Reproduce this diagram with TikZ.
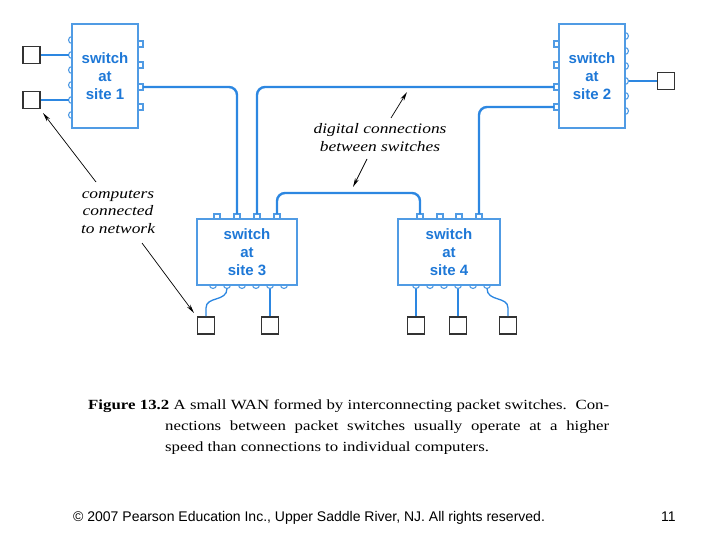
\documentclass[tikz,border=0pt]{standalone}
\usepackage{fontspec}
\setmainfont{Liberation Serif}
\newfontfamily\capfont[FakeStretch=1.2]{Liberation Serif}
\newfontfamily\swfont{Liberation Sans}
\usetikzlibrary{arrows.meta}
\definecolor{linkblue}{RGB}{45,135,225}
\definecolor{boxblue}{RGB}{80,155,228}
\definecolor{textblue}{RGB}{30,120,215}
\begin{document}
\begin{tikzpicture}[x=1pt,y=-1pt,
  switchbox/.style={draw=boxblue, fill=white, line width=1.1pt, inner sep=0pt,
    align=center, text=textblue, font=\swfont\bfseries\fontsize{15}{18}\selectfont},
  portc/.style={draw=boxblue, fill=white, line width=1.1pt},
  comp/.style={draw=black!80, line width=1.8pt, fill=white, minimum size=17pt, inner sep=0pt},
  link/.style={draw=linkblue, line width=2.4pt, rounded corners=8pt},
  clink/.style={draw=linkblue, line width=1.3pt},
  note/.style={align=center, font=\capfont\itshape\fontsize{14.5}{17.5}\selectfont},
  pointer/.style={draw=black, line width=0.7pt, -{Stealth[length=9pt,width=4pt]}},
  capline/.style={anchor=base west, inner sep=0pt, font=\capfont\fontsize{14}{21}\selectfont}]
\useasboundingbox (0,0) rectangle (720,540);

% ports (drawn first, boxes cover inner halves)
\foreach \y in {40,55,70,85,100,115} {\draw[portc] (72,\y) circle (3.5);}
\foreach \y in {44,65,87,107} {\draw[portc] (138,\y-3) rectangle (143,\y+3);}
\foreach \y in {44,65,87,107} {\draw[portc] (554,\y-3) rectangle (559,\y+3);}
\foreach \y in {36,51,66,81,96,111} {\draw[portc] (625,\y) circle (3.5);}
\foreach \x in {217,237,257,277} {\draw[portc] (\x-3,214) rectangle (\x+3,219);}
\foreach \x in {213,227,242,256,270,284} {\draw[portc] (\x,285) circle (3.5);}
\foreach \x in {420,440,459,479} {\draw[portc] (\x-3,214) rectangle (\x+3,219);}
\foreach \x in {416,430,444,458,473,487} {\draw[portc] (\x,285) circle (3.5);}

% switches
\node[switchbox, minimum width=66pt, minimum height=104pt] (s1) at (105,76) {switch\\at\\site 1};
\node[switchbox, minimum width=66pt, minimum height=104pt] (s2) at (592,76) {switch\\at\\site 2};
\node[switchbox, minimum width=100pt, minimum height=66pt] (s3) at (247,252) {switch\\at\\site 3};
\node[switchbox, minimum width=102pt, minimum height=66pt] (s4) at (449,252) {switch\\at\\site 4};

% computers
\node[comp] (c1) at (31.5,55) {};
\node[comp] (c2) at (31.5,100) {};
\node[comp] (c3) at (666,81) {};
\node[comp] (c4) at (206,325.5) {};
\node[comp] (c5) at (270,325.5) {};
\node[comp] (c6) at (416,325.5) {};
\node[comp] (c7) at (458,325.5) {};
\node[comp] (c8) at (508,325.5) {};

% port coordinates
\coordinate (p1r) at (143,87);
\coordinate (p2a) at (554,87);
\coordinate (p2b) at (554,107);
\coordinate (p3b) at (237,214);
\coordinate (p3c) at (257,214);
\coordinate (p3d) at (277,214);
\coordinate (p4a) at (420,214);
\coordinate (p4d) at (479,214);
\coordinate (q1) at (68.5,55);
\coordinate (q2) at (68.5,100);
\coordinate (q3) at (628.5,81);
\coordinate (q4) at (227,288.5);
\coordinate (q5) at (270,288.5);
\coordinate (q6) at (416,288.5);
\coordinate (q7) at (458,288.5);
\coordinate (q8) at (487,288.5);

% switch-to-switch links
\draw[link] (p1r) -| (p3b);
\draw[link] (p2a) -| (p3c);
\draw[link] (p2b) -| (p4d);
\draw[link] (p3d) -- ++(0,-21) -| (p4a);

% computer links
\draw[clink] (c1.east) -- (q1);
\draw[clink] (c2.east) -- (q2);
\draw[clink] (q3) -- (c3.west);
\draw[clink] (q4) .. controls (227,302) and (206,296) .. (206,308) -- (c4.north);
\draw[clink] (q5) -- (c5.north);
\draw[clink] (q6) -- (c6.north);
\draw[clink] (q7) -- (c7.north);
\draw[clink] (q8) .. controls (487,302) and (508,296) .. (508,308) -- (c8.north);

% labels
\node[note] (ldig) at (380,137.5) {digital connections\\between switches};
\node[note] (lcomp) at (118,211.5) {computers\\connected\\to network};
\coordinate (d1s) at (391,118);
\coordinate (d1e) at (407,92);
\coordinate (d2s) at (367,159);
\coordinate (d2e) at (353,187);
\coordinate (k1s) at (96,182);
\coordinate (k1e) at (43,113);
\coordinate (k2s) at (142,243);
\coordinate (k2e) at (194,313);
\draw[pointer] (d1s) -- (d1e);
\draw[pointer] (d2s) -- (d2e);
\draw[pointer] (k1s) -- (k1e);
\draw[pointer] (k2s) -- (k2e);

% caption
\node[capline] (cap1) at (88,409) {\makebox[521pt][s]{\textbf{Figure 13.2} A small WAN formed by interconnecting packet switches.\ \ Con-}};
\node[capline] (cap2) at (165,430) {\makebox[444pt][s]{nections between packet switches usually operate at a higher}};
\node[capline] (cap3) at (165,451) {speed than connections to individual computers.};

% footer
\node[anchor=base west, inner sep=0pt, font=\swfont\fontsize{14}{16}\selectfont] (foot) at (73,521) {© 2007 Pearson Education Inc., Upper Saddle River, NJ. All rights reserved.};
\node[anchor=base west, inner sep=0pt, font=\swfont\fontsize{14}{16}\selectfont] (pnum) at (661,521) {11};
\end{tikzpicture}
\end{document}
